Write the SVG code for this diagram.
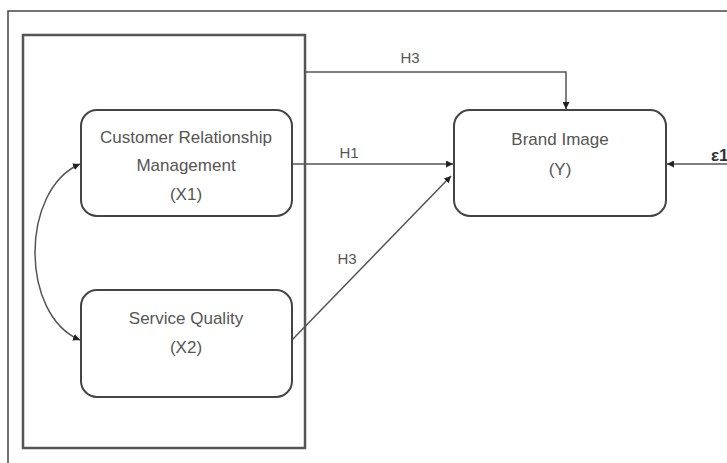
<svg xmlns="http://www.w3.org/2000/svg" width="727" height="463" viewBox="0 0 727 463">
<style>
.box{fill:#fff;stroke:#444;stroke-width:2}
.lbl{font-family:"Liberation Sans",Arial,sans-serif;font-size:17px;fill:#555;text-anchor:middle}
.h{font-family:"Liberation Sans",Arial,sans-serif;font-size:15px;fill:#555;text-anchor:middle}
.con{fill:none;stroke:#555;stroke-width:1.5}
</style>
<defs>
<marker id="ah" viewBox="0 0 10 10" refX="10" refY="5" markerWidth="7" markerHeight="7" markerUnits="userSpaceOnUse" orient="auto-start-reverse">
<path d="M0,0 L10,5 L0,10 z" fill="#222"/>
</marker>
</defs>
<rect width="727" height="463" fill="#fff"/>
<g id="frame">
<rect x="8" y="11" width="730" height="460" fill="none" stroke="#444" stroke-width="1.5"/>
<rect x="23" y="35" width="282" height="413" fill="none" stroke="#555" stroke-width="2.5"/>
</g>
<g id="connectors">
<path class="con" d="M305,72 H566 V109" marker-end="url(#ah)"/>
<path class="con" d="M292,164 H453" marker-end="url(#ah)"/>
<path class="con" d="M292,340 L451,176" marker-end="url(#ah)"/>
<path class="con" d="M727,164 H667" marker-end="url(#ah)"/>
<path class="con" d="M80,164 C20,190 20,315 80,340" marker-start="url(#ah)" marker-end="url(#ah)"/>
<text class="h" x="410" y="63">H3</text>
<text class="h" x="349" y="158">H1</text>
<text class="h" x="347" y="264">H3</text>
<text class="h" x="711" y="161" style="text-anchor:start;font-size:17px;font-weight:bold;fill:#333">ε1</text>
</g>
<g id="crm">
<rect class="box" x="81" y="110" width="211" height="106" rx="16"/>
<text class="lbl" x="186" y="143">Customer Relationship</text>
<text class="lbl" x="186" y="171">Management</text>
<text class="lbl" x="186" y="200">(X1)</text>
</g>
<g id="sq">
<rect class="box" x="81" y="290" width="211" height="107" rx="16"/>
<text class="lbl" x="186" y="324">Service Quality</text>
<text class="lbl" x="186" y="353">(X2)</text>
</g>
<g id="bi">
<rect class="box" x="454" y="110" width="212" height="106" rx="16"/>
<text class="lbl" x="560" y="145">Brand Image</text>
<text class="lbl" x="560" y="175">(Y)</text>
</g>
</svg>
